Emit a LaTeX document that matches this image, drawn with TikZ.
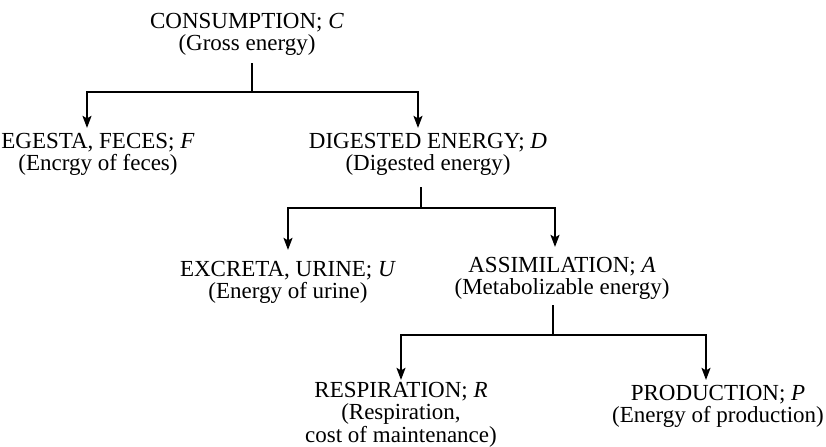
\documentclass[tikz,border=0pt]{standalone}
\usepackage{fontspec}
\setmainfont{Liberation Serif}
\usetikzlibrary{arrows.meta, positioning, calc}

\begin{document}
\begin{tikzpicture}[
    x=0.5pt, y=-0.5pt,
    >={Stealth[length=6pt, width=4.4pt, inset=1.2pt]},
    font=\fontsize{11.5}{9.6}\selectfont,
    % Define styles for the node text and the lines
    flowtext/.style={inner sep=0pt, align=center, anchor=north},
    flowline/.style={line width=1.2pt},
]

% fixed frame
\useasboundingbox (0,0) rectangle (826,446);

% -------------------------
% Energy Nodes
% -------------------------
\node (consumption) [flowtext] at (247,13) {CONSUMPTION; \textit{C}\\(Gross energy)};
\node (egesta) [flowtext] at (98,133) {EGESTA, FECES; \textit{F}\\(Encrgy of feces)};
\node (digested) [flowtext] at (428,133) {DIGESTED ENERGY; \textit{D}\\(Digested energy)};
\node (excreta) [flowtext] at (288,261) {EXCRETA, URINE; \textit{U}\\(Energy of urine)};
\node (assimilation) [flowtext] at (562,257) {ASSIMILATION; \textit{A}\\(Metabolizable energy)};
\node (respiration) [flowtext, font=\fontsize{11.5}{9}\selectfont] at (401,382) {RESPIRATION; \textit{R}\\(Respiration,\\cost of maintenance)};
\node (production) [flowtext] at (718,385) {PRODUCTION; \textit{P}\\(Energy of production)};

% Split points
\coordinate (split_c) at (252,92);
\coordinate (split_d) at (421,208);
\coordinate (split_a) at (553,335);

% -------------------------
% Connections
% -------------------------

% Consumption split
\draw[flowline, shorten <=4pt] (consumption.south -| split_c) -- (split_c);
\draw[flowline, ->, shorten >=2.5pt] (split_c) -| ([xshift=-5.5pt]egesta.north);
\draw[flowline, ->, shorten >=2.5pt] (split_c) -| ([xshift=-5pt]digested.north);

% Digested energy split
\draw[flowline, shorten <=6pt] (digested.south -| split_d) -- (split_d);
\draw[flowline, ->, shorten >=5.5pt] (split_d) -| (excreta.north);
\draw[flowline, ->, shorten >=5pt] (split_d) -| ([xshift=-3.5pt]assimilation.north);

% Assimilation split
\draw[flowline, shorten <=3pt] (assimilation.south -| split_a) -- (split_a);
\draw[flowline, ->, shorten >=1pt] (split_a) -| (respiration.north);
\draw[flowline, ->, shorten >=2.5pt] (split_a) -| ([xshift=-6pt]production.north);

\end{tikzpicture}
\end{document}
